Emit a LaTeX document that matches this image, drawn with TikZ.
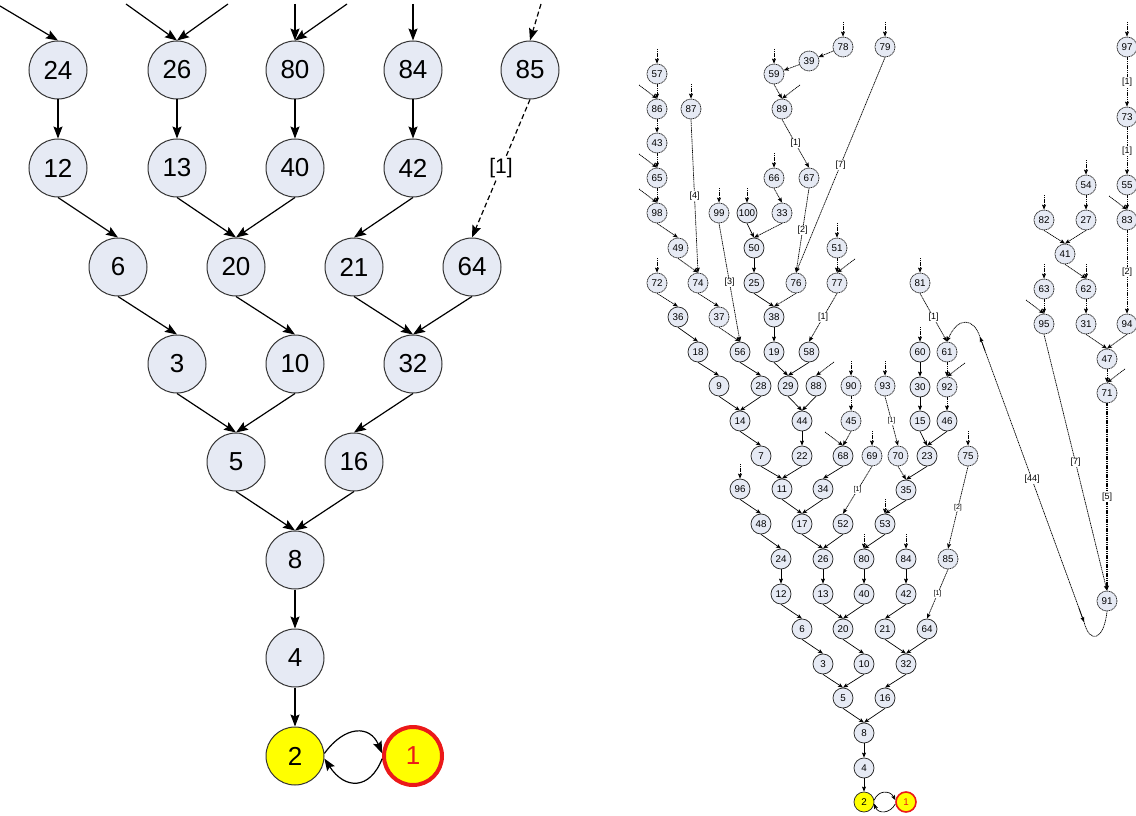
\documentclass[tikz,border=0pt]{standalone}
\usepackage{fontspec}
\setmainfont{Liberation Sans}
\usetikzlibrary{arrows.meta,calc}
\definecolor{nfill}{RGB}{230,234,244}
\definecolor{ycol}{RGB}{255,255,0}
\definecolor{rcol}{RGB}{235,25,25}
\tikzset{
 sn/.style={circle,draw=black!85,fill=nfill,line width=0.75pt,minimum size=20pt,inner sep=0pt,font=\fontsize{9.8}{9.8}\selectfont},
 dn/.style={sn,dash pattern=on 1.2pt off 0.6pt},
 se/.style={line width=0.7pt,-{Stealth[length=5pt,width=4pt,inset=1pt]}},
 de/.style={se,dash pattern=on 1.2pt off 0.6pt},
 lab/.style={fill=white,inner sep=0.5pt,font=\fontsize{9}{9}\selectfont},
 labs/.style={fill=white,inner sep=0.5pt,font=\fontsize{7}{7}\selectfont},
 bn/.style={circle,draw=black!80,fill=nfill,line width=1pt,minimum size=58pt,inner sep=0pt,font=\fontsize{26}{26}\selectfont},
 be/.style={line width=1.2pt,-{Stealth[length=12pt,width=9pt,inset=2pt]}},
 bd/.style={be,dash pattern=on 5pt off 3pt},
 blab/.style={fill=white,inner sep=1pt,font=\fontsize{21}{21}\selectfont},
}
\begin{document}
\begin{tikzpicture}[x=1pt,y=-1pt]
\useasboundingbox (0,0) rectangle (1136,816);
\fill[white] (0,0) rectangle (1136,816);
% ---------------- left enlarged view ----------------
\foreach \n/\x/\y in {24/58/70,26/177/70,80/295/70,84/413/70,85/530/70,
  12/58/168,13/177/168,40/295/168,42/413/168,
  6/118/267,20/236/267,21/354/267,64/472/267,
  3/177/364,10/295/364,32/413/364,5/236/462,16/354/462,8/295/560,4/295/658}
  \node[bn] (L\n) at (\x,\y) {\n};
\node[bn,fill=ycol] (L2) at (295,756) {2};
\node[bn,fill=ycol,draw=rcol,line width=4pt,text=rcol] (L1) at (413,756) {1};
\foreach \a/\b in {24/12,26/13,80/40,84/42,12/6,13/20,40/20,42/21,6/3,20/10,21/32,64/32,3/5,10/5,32/16,5/8,16/8,8/4,4/2}
  \draw[be] (L\a.south) -- (L\b.north);
\draw[bd] (L85.south) -- node[blab] {[1]} (L64.north);
\coordinate (la) at (0,6); \coordinate (lb) at (126,4); \coordinate (lc) at (228,4);
\coordinate (ld) at (295,4); \coordinate (le) at (347,4); \coordinate (lf) at (413,4);
\coordinate (lg) at (541,4);
\draw[be] (la) -- (L24.north);
\draw[be] (lb) -- (L26.north);
\draw[be] (lc) -- (L26.north);
\draw[be] (ld) -- (L80.north);
\draw[be] (le) -- (L80.north);
\draw[be] (lf) -- (L84.north);
\draw[bd] (lg) -- (L85.north);
\draw[be] (L2.5) .. controls (345,725) and (370,725) .. (L1.175);
\draw[be] (L1.185) .. controls (370,790) and (345,790) .. (L2.-5);
% ---------------- right full graph ----------------
\foreach \n/\x/\y in {100/747/213,50/754/248,25/754/283,36/678/317,38/774/317,
  18/698/352,56/740/352,19/774/352,58/809/352,60/920/352,
  9/719/386,28/761/386,29/788/386,88/816/386,30/920/387,
  14/740/421,44/802/421,15/920/421,46/947/421,
  7/761/456,22/802/456,68/843/456,23/927/456,
  96/740/489,11/782/489,34/823/489,35/906/490,
  48/761/524,17/802/524,52/843/524,53/885/524,
  24/781/559,26/823/559,80/864/559,84/906/559,
  12/781/594,13/823/594,40/864/594,42/906/594,
  6/802/629,20/843/629,21/885/629,64/927/629,
  3/823/664,10/864/664,32/906/664,5/843/698,16/885/698,
  8/864/733,4/864/768}
  \node[sn] (r\n) at (\x,\y) {\n};
\foreach \n/\x/\y in {57/657/74,78/843/47,79/885/47,39/809/61,59/774/74,97/1127/47,
  86/657/109,87/691/109,89/782/109,73/1127/117,43/657/143,
  65/657/178,66/774/178,67/809/178,54/1086/185,55/1127/185,
  98/657/213,99/719/213,33/782/213,82/1044/220,27/1086/220,83/1127/220,
  49/678/248,51/837/248,41/1065/254,
  72/657/283,74/698/283,76/796/283,77/837/283,81/920/283,63/1044/289,62/1086/289,
  37/719/317,95/1044/324,31/1086/324,94/1127/324,
  61/947/352,47/1107/359,90/851/386,93/885/386,92/947/387,71/1107/393,
  45/851/421,69/872/456,70/898/456,75/968/456,85/948/559,91/1107/601}
  \node[dn] (r\n) at (\x,\y) {\n};
\node[sn,fill=ycol] (r2) at (864,802) {2};
\node[sn,fill=ycol,draw=rcol,line width=1.6pt,text=rcol] (r1) at (906,802) {1};
% solid edges
\foreach \a/\b in {36/18,18/9,9/14,56/28,28/14,100/50,50/25,25/38,38/19,19/29,58/29,
  29/44,88/44,44/22,14/7,7/11,22/11,68/34,11/17,34/17,17/26,52/26,96/48,48/24,
  23/35,35/53,53/80,60/30,30/15,15/23,46/23,84/42,24/12,26/13,80/40,12/6,13/20,
  40/20,42/21,6/3,20/10,21/32,64/32,3/5,10/5,32/16,5/8,16/8,8/4,4/2}
  \draw[se] (r\a.south) -- (r\b.north);
% dashed edges
\foreach \a/\b in {57/86,86/43,43/65,65/98,98/49,49/74,72/36,74/37,37/56,59/89,
  66/33,33/50,51/77,90/45,45/68,70/35,61/92,92/46,54/27,82/41,27/41,55/83,41/62,
  63/95,62/31,31/47,94/47,47/71,76/38}
  \draw[de] (r\a.south) -- (r\b.north);
\draw[de] (r78) -- (r39);
\draw[de] (r39) -- (r59);
% labelled edges
\foreach \a/\b/\l in {87/74/4,89/67/1,67/76/2,79/76/7,99/56/3,77/58/1,81/61/1,
  97/73/1,73/55/1,83/94/2,95/91/7}
  \draw[de] (r\a.south) -- node[lab] {[\l]} (r\b.north);
\draw[de,line width=1.1pt] (r71.south) -- node[lab] {[5]} (r91.north);
\foreach \a/\b/\l in {93/70/1,69/52/1,75/85/2,85/64/1}
  \draw[de] (r\a.south) -- node[labs] {[\l]} (r\b.north);
% stubs
\foreach \n in {57,78,79,59,87,66,99,100,51,72,97,54,82,63,62,81,60,90,93,69,75,96,53,80,84}{
  \coordinate (s\n) at ($(r\n)+(0,-25)$);
  \draw[de] (s\n) -- (r\n.north);}
\foreach \n in {86,65,98,68,95,83}{
  \coordinate (t\n) at ($(r\n)+(-18,-24)$);
  \draw[de] (t\n) -- (r\n.north);}
\foreach \n in {89,77,88,92,71}{
  \coordinate (u\n) at ($(r\n)+(18,-24)$);
  \draw[de] (u\n) -- (r\n.north);}
% long back edge [44]
\coordinate (q1) at (980,337);
\coordinate (q2) at (1084,622);
\draw[de] (r91.south) .. controls (1104,640) and (1090,645) .. (q2) -- (q1)
  .. controls (974,318) and (958,316) .. (r61.north);
\path (q1) -- node[lab] {[44]} (q2);
\coordinate (q1b) at ($(q1)!0.05!(q2)$);
\coordinate (q2b) at ($(q2)!0.05!(q1)$);
\draw[se] (q1b) -- (q1);
\draw[se] (q2b) -- (q2);
% 2 <-> 1
\draw[se] (r2.10) .. controls (878,790) and (890,790) .. (r1.170);
\draw[se] (r1.190) .. controls (890,814) and (878,814) .. (r2.-10);
\end{tikzpicture}
\end{document}
